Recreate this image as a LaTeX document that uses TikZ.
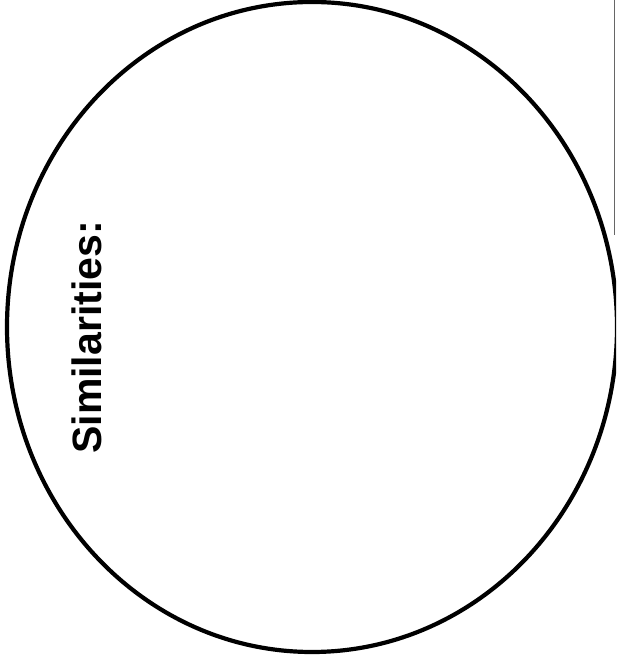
\documentclass[tikz,border=0pt]{standalone}
\usepackage{fontspec}
\setmainfont{Liberation Sans}
\usepackage{tikz}
\usetikzlibrary{positioning}

\begin{document}
\begin{tikzpicture}[x=1pt, y=1pt, thick]
  \useasboundingbox (0,0) rectangle (616,655);

  % Kruh
  \begin{scope}
    \clip (0,0) rectangle (616,655);
    \draw[line width=4.2pt] (312,328) ellipse [x radius=305, y radius=325];
  \end{scope}

  % Okraj listu
  \draw[line width=1pt, black!60] (614,655) -- (614,420);

  % Nadpis
  \node[rotate=90, anchor=base west, inner sep=0pt, font=\fontsize{41}{46}\selectfont\bfseries]
    (label) at (101,201) {Similarities:};
\end{tikzpicture}
\end{document}
